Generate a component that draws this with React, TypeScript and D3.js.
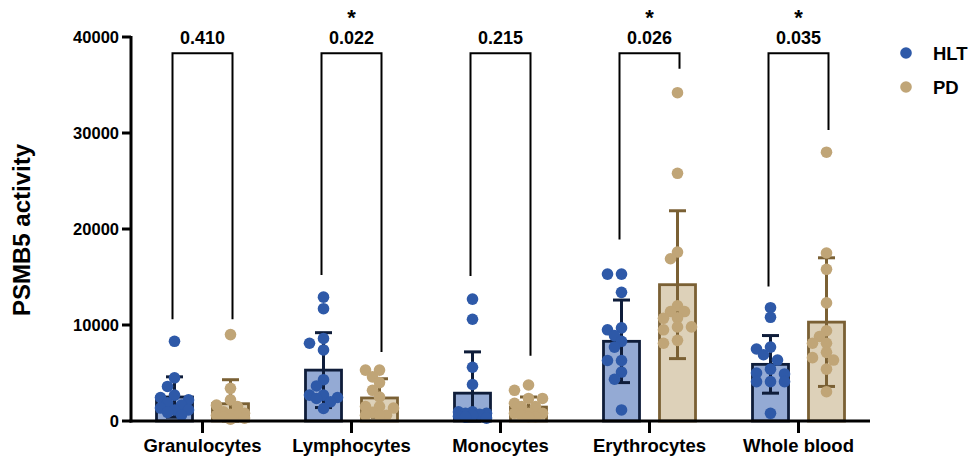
import React from 'react';
import * as d3 from 'd3';

const categories = ['Granulocytes', 'Lymphocytes', 'Monocytes', 'Erythrocytes', 'Whole blood'];
const groups = ['HLT', 'PD'];

// individual samples
const hltValues = [
  [8300, 4500, 3600, 2700, 2450, 2200, 1900, 1650, 1350, 1150, 1150, 900, 600],
  [12900, 11700, 8600, 8100, 7400, 4300, 3650, 2700, 2700, 2450, 2350, 2000, 1300],
  [12700, 10600, 5600, 3800, 950, 950, 800, 800, 700, 600, 500, 400, 300],
  [15300, 15300, 13400, 9700, 9500, 8900, 8300, 7700, 6300, 6300, 5100, 4350, 1150],
  [11800, 10800, 7700, 7500, 6900, 6350, 5400, 5000, 4900, 4100, 4100, 4100, 800],
];
const pdValues = [
  [9000, 3400, 2200, 1650, 1500, 950, 800, 700, 600, 500, 450, 300, 200],
  [5300, 5300, 4600, 4000, 3200, 2500, 1500, 1500, 1350, 900, 600, 600, 600],
  [3750, 3200, 2350, 2350, 1850, 1500, 1500, 800, 800, 800, 600, 450, 450],
  [34200, 25800, 17600, 16900, 12000, 11400, 11400, 10750, 10700, 9800, 9800, 9500, 8400, 8100],
  [28000, 17500, 15800, 12300, 9400, 8800, 8100, 8100, 7150, 6600, 6350, 5400, 3050],
];

// bar heights (mean) and error bars (SD)
const hltMean = [2500, 5300, 2900, 8300, 5900];
const hltSd = [2100, 3900, 4300, 4300, 3000];
const pdMean = [1800, 2400, 1450, 14200, 10300];
const pdSd = [2500, 2000, 1050, 7700, 6700];

// significance brackets
const pLabels = ['0.410', '0.022', '0.215', '0.026', '0.035'];
const pStars = [false, true, false, true, true];
const bracketTop = 38300;
const bracketLeftEnd = [10600, 15200, 15100, 18900, 14000];
const bracketRightEnd = [10600, 7200, 6800, 36700, 30300];

const yTicks = [0, 10000, 20000, 30000, 40000];

const colors = {
  HLT: { dot: '#2e59a8', fill: '#94aad4', stroke: '#0f1d3a' },
  PD: { dot: '#c0a577', fill: '#ddd1b9', stroke: '#7a6034' },
};

const W = 974;
const H = 463;
const axisX = 131;
const axisY = 421;
const font = 'Arial, "Liberation Sans", sans-serif';

const x = d3.scaleBand().domain(categories).range([128, 873]);
const sub = d3.scaleBand().domain(groups).range([-46, 46]).paddingInner(0.357).paddingOuter(0);
const y = d3.scaleLinear().domain([0, 40000]).range([axisY, 37]);

const R = 5.8;

// simple beeswarm so overlapping points spread sideways
function swarm(values: number[]) {
  const placed: { v: number; dx: number; py: number }[] = [];
  const sorted = [...values].sort((a, b) => b - a);
  const steps = [0, -7, 7, -14, 14];
  sorted.forEach(v => {
    const py = y(v);
    let best = 0;
    let bestD = -1;
    for (const s of steps) {
      const d = placed.reduce((m, p) => Math.min(m, Math.hypot(p.dx - s, p.py - py)), Infinity);
      if (d >= 9) { best = s; bestD = d; break; }
      if (d > bestD) { bestD = d; best = s; }
    }
    placed.push({ v, dx: best, py });
  });
  return placed;
}

export default function App() {
  const bw = sub.bandwidth();
  const capW = 17;

  const renderGroup = (ci: number, g: string) => {
    const cx = x(categories[ci])! + x.bandwidth() / 2 + sub(g)! + bw / 2;
    const mean = g === 'HLT' ? hltMean[ci] : pdMean[ci];
    const sd = g === 'HLT' ? hltSd[ci] : pdSd[ci];
    const vals = g === 'HLT' ? hltValues[ci] : pdValues[ci];
    const c = colors[g as 'HLT' | 'PD'];
    const top = y(mean + sd);
    const bot = y(Math.max(0, mean - sd));
    return (
      <g key={g + ci}>
        <rect x={cx - bw / 2} y={y(mean)} width={bw} height={axisY - y(mean)}
          fill={c.fill} stroke={c.stroke} strokeWidth={2.8} />
        <line x1={cx} x2={cx} y1={top} y2={bot} stroke={c.stroke} strokeWidth={3} />
        <line x1={cx - capW / 2} x2={cx + capW / 2} y1={top} y2={top} stroke={c.stroke} strokeWidth={3} />
        <line x1={cx - capW / 2} x2={cx + capW / 2} y1={bot} y2={bot} stroke={c.stroke} strokeWidth={3} />
        {swarm(vals).map((p, i) => (
          <circle key={i} cx={cx + p.dx} cy={p.py} r={R} fill={c.dot} />
        ))}
      </g>
    );
  };

  return (
    <svg width={W} height={H} style={{ position: 'absolute', left: 0, top: 0, background: '#fff' }}
      fontFamily={font}>
      {categories.map((cat, ci) => (
        <g key={cat}>
          {groups.map(g => renderGroup(ci, g))}
        </g>
      ))}

      {/* axes */}
      <line x1={axisX} x2={axisX} y1={y(40000) - 1} y2={axisY + 1.5} stroke="#000" strokeWidth={3} />
      <line x1={axisX - 1.5} x2={870} y1={axisY} y2={axisY} stroke="#000" strokeWidth={3} />
      {yTicks.map(t => (
        <g key={t}>
          <line x1={axisX - 9} x2={axisX} y1={y(t)} y2={y(t)} stroke="#000" strokeWidth={3} />
          <text x={axisX - 12} y={y(t)} dy="0.35em" textAnchor="end" fontSize={16.5} fontWeight="bold">{t}</text>
        </g>
      ))}
      {categories.map(cat => {
        const cx = x(cat)! + x.bandwidth() / 2;
        return (
          <g key={cat}>
            <line x1={cx} x2={cx} y1={axisY} y2={axisY + 12} stroke="#000" strokeWidth={3} />
            <text x={cx} y={452} textAnchor="middle" fontSize={18.5} fontWeight="bold">{cat}</text>
          </g>
        );
      })}
      <text transform={`translate(30,${230}) rotate(-90)`} textAnchor="middle" fontSize={24} fontWeight="bold">PSMB5 activity</text>

      {/* brackets */}
      {categories.map((cat, ci) => {
        const cx = x(cat)! + x.bandwidth() / 2;
        const l = cx - 30;
        const r = cx + 30;
        const path = `M${l},${y(bracketLeftEnd[ci])}V${y(bracketTop)}H${r}V${y(bracketRightEnd[ci])}`;
        return (
          <g key={'b' + cat}>
            <path d={path} fill="none" stroke="#000" strokeWidth={2} />
            <text x={cx} y={y(bracketTop) - 9} textAnchor="middle" fontSize={18} fontWeight="bold">{pLabels[ci]}</text>
            {pStars[ci] && (
              <text x={cx} y={y(bracketTop) - 28} textAnchor="middle" fontSize={22} fontWeight="bold">*</text>
            )}
          </g>
        );
      })}

      {/* legend */}
      {groups.map((g, i) => (
        <g key={'lg' + g} transform={`translate(906,${53 + i * 34})`}>
          <circle cx={0} cy={0} r={5.8} fill={colors[g as 'HLT' | 'PD'].dot} />
          <text x={27} y={0} dy="0.36em" fontSize={18.5} fontWeight="bold">{g}</text>
        </g>
      ))}
    </svg>
  );
}
